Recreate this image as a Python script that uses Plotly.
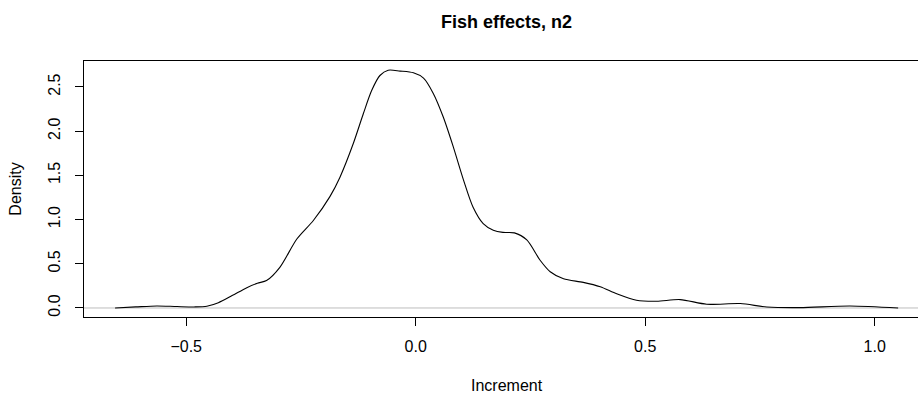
import plotly.graph_objects as go

# Density curve
increment = [-0.655, -0.61, -0.564, -0.52, -0.48, -0.455, -0.43, -0.40, -0.368, -0.345,
             -0.325, -0.296, -0.259, -0.223, -0.187, -0.165, -0.136, -0.114, -0.096, -0.078,
             -0.060, -0.034, -0.005, 0.017, 0.038, 0.060, 0.082, 0.104, 0.125, 0.147,
             0.169, 0.19, 0.215, 0.242, 0.271, 0.293, 0.322, 0.365, 0.402, 0.438,
             0.481, 0.525, 0.576, 0.634, 0.707, 0.765, 0.837, 0.946, 1.051]
density = [0.0, 0.012, 0.023, 0.016, 0.012, 0.02, 0.06, 0.14, 0.23, 0.28,
           0.31, 0.46, 0.78, 0.99, 1.26, 1.48, 1.86, 2.20, 2.46, 2.63,
           2.69, 2.68, 2.66, 2.60, 2.43, 2.16, 1.82, 1.45, 1.14, 0.955,
           0.88, 0.855, 0.85, 0.77, 0.54, 0.41, 0.33, 0.29, 0.24, 0.16,
           0.087, 0.076, 0.095, 0.042, 0.05, 0.011, 0.004, 0.023, 0.0]

x_ticks = [-0.5, 0.0, 0.5, 1.0]
x_tick_labels = ["\u22120.5", "0.0", "0.5", "1.0"]
y_ticks = [0.0, 0.5, 1.0, 1.5, 2.0, 2.5]
y_tick_labels = ["0.0", "0.5", "1.0", "1.5", "2.0", "2.5"]

FONT = "Liberation Sans, Arial, Helvetica, sans-serif"

fig = go.Figure()
fig.add_trace(go.Scatter(
    x=increment, y=density, mode="lines",
    line=dict(color="black", width=1.1, shape="spline", smoothing=0.8),
    hoverinfo="skip", showlegend=False,
))

fig.add_shape(type="line", xref="paper", yref="y", x0=0, x1=1, y0=0, y1=0,
              line=dict(color="#BEBEBE", width=1), layer="below")

# x-axis title centred on the full (partly cropped) plot box, as in the reference
fig.add_annotation(text="Increment", xref="paper", yref="paper", x=0.5066, y=0,
                   xanchor="center", yanchor="middle", yshift=-68.5, showarrow=False,
                   font=dict(size=16, family=FONT, color="black"))

fig.update_layout(
    width=918, height=393,
    margin=dict(l=84, r=0, t=61, b=76),
    plot_bgcolor="white", paper_bgcolor="white",
    font=dict(family=FONT, size=16, color="black"),
    title=dict(text="<b>Fish effects, n2</b>", x=0.5066, xref="paper", xanchor="center",
               y=0.945, yref="container", yanchor="middle",
               font=dict(size=18, family=FONT, color="black")),
    xaxis=dict(range=[-0.7227, 1.0943], tickvals=x_ticks, ticktext=x_tick_labels,
               showgrid=False, zeroline=False, showline=True, linecolor="black", linewidth=1,
               mirror=True, ticks="outside", ticklen=8, tickcolor="black", tickwidth=1,
               ticklabelstandoff=7, tickfont=dict(size=16)),
    yaxis=dict(range=[-0.102, 2.794], tickvals=y_ticks, ticktext=y_tick_labels,
               showgrid=False, zeroline=False, showline=True, linecolor="black", linewidth=1,
               ticks="outside", ticklen=8, tickcolor="black", tickwidth=1,
               tickangle=-90, ticklabelstandoff=9, tickfont=dict(size=16),
               title=dict(text="Density", standoff=19, font=dict(size=16))),
)

fig.write_html("out.html", config={"displayModeBar": False},
               post_script="document.body.style.margin='0';document.body.style.padding='0';")
